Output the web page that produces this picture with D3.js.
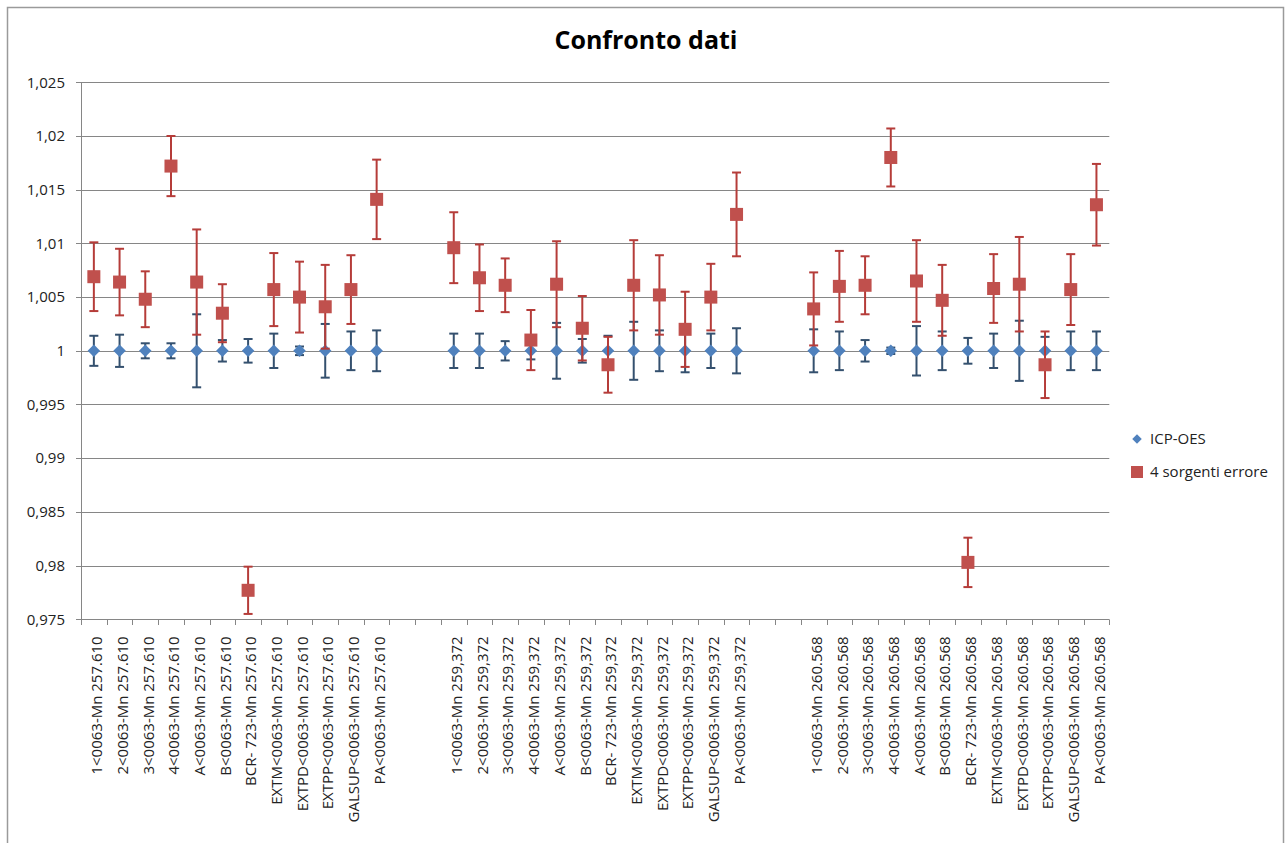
<!DOCTYPE html>
<html>
<head>
<meta charset="utf-8">
<script src="https://cdn.jsdelivr.net/npm/d3@7"></script>
<style>
  body { margin: 0; background: #fff; }
  svg { display: block; }
</style>
</head>
<body>
<div id="chart"></div>
<script>
// categories: 3 blocks of 12 samples, two empty slots between blocks
const samples = ["1<0063-Mn", "2<0063-Mn", "3<0063-Mn", "4<0063-Mn", "A<0063-Mn", "B<0063-Mn",
  "BCR- 723-Mn", "EXTM<0063-Mn", "EXTPD<0063-Mn", "EXTPP<0063-Mn", "GALSUP<0063-Mn", "PA<0063-Mn"];
const lines = ["257.610", "259,372", "260.568"];

// ICP-OES (all normalised to 1) and its error
const icpValues = [
  1, 1, 1, 1, 1, 1, 1, 1, 1, 1, 1, 1,
  1, 1, 1, 1, 1, 1, 1, 1, 1, 1, 1, 1,
  1, 1, 1, 1, 1, 1, 1, 1, 1, 1, 1, 1];
const icpErr = [
  0.0014, 0.0015, 0.0007, 0.0007, 0.0034, 0.0010, 0.0011, 0.0016, 0.0004, 0.0025, 0.0018, 0.0019,
  0.0016, 0.0016, 0.0009, 0.0008, 0.0026, 0.0011, 0.0014, 0.0027, 0.0019, 0.0020, 0.0016, 0.0021,
  0.0020, 0.0018, 0.0010, 0.0003, 0.0023, 0.0018, 0.0012, 0.0016, 0.0028, 0.0013, 0.0018, 0.0018];

// "4 sorgenti errore"
const srcValues = [
  1.0069, 1.0064, 1.0048, 1.0172, 1.0064, 1.0035, 0.9777, 1.0057, 1.0050, 1.0041, 1.0057, 1.0141,
  1.0096, 1.0068, 1.0061, 1.0010, 1.0062, 1.0021, 0.9987, 1.0061, 1.0052, 1.0020, 1.0050, 1.0127,
  1.0039, 1.0060, 1.0061, 1.0180, 1.0065, 1.0047, 0.9803, 1.0058, 1.0062, 0.9987, 1.0057, 1.0136];
const srcErr = [
  0.0032, 0.0031, 0.0026, 0.0028, 0.0049, 0.0027, 0.0022, 0.0034, 0.0033, 0.0039, 0.0032, 0.0037,
  0.0033, 0.0031, 0.0025, 0.0028, 0.0040, 0.0030, 0.0026, 0.0042, 0.0037, 0.0035, 0.0031, 0.0039,
  0.0034, 0.0033, 0.0027, 0.0027, 0.0038, 0.0033, 0.0023, 0.0032, 0.0044, 0.0031, 0.0033, 0.0038];

const gap = 2;
const yDomain = [0.975, 1.025];

// build the slot table (blank slots between blocks)
const points = [];
lines.forEach((ln, g) => {
  samples.forEach((s, i) => {
    const k = g * samples.length + i;
    points.push({
      slot: g * (samples.length + gap) + i,
      label: s + " " + ln,
      icp: icpValues[k], icpE: icpErr[k],
      src: srcValues[k], srcE: srcErr[k]
    });
  });
});
const nSlots = lines.length * samples.length + (lines.length - 1) * gap;

const W = 1288, H = 843;
const plot = { left: 81, right: 1109.3, top: 82.3, bottom: 619.3 };
const font = "'Open Sans', sans-serif";
const gridColor = "#868686";
const blue = "#4f81bd", blueErr = "#34506e";
const red = "#c0504d", redErr = "#b53c39";

const svg = d3.select("#chart").append("svg")
  .attr("width", W).attr("height", H);

svg.append("rect").attr("width", W).attr("height", H).attr("fill", "#fff");
// chart frame
svg.append("rect")
  .attr("x", 7.5).attr("y", 7.5).attr("width", 1276).attr("height", 860)
  .attr("fill", "none").attr("stroke", "#9a9a9a").attr("stroke-width", 1.5);

const x = d3.scaleBand().domain(d3.range(nSlots)).range([plot.left, plot.right]).padding(0);
const y = d3.scaleLinear().domain(yDomain).range([plot.bottom, plot.top]);

const it = d3.formatLocale({ decimal: ",", thousands: ".", grouping: [3], currency: ["", "€"] });
const fmt = it.format("~g");

// gridlines
const yTicks = y.ticks(10);
svg.append("g").selectAll("line")
  .data(yTicks)
  .join("line")
  .attr("x1", plot.left - 5).attr("x2", plot.right)
  .attr("y1", d => Math.round(y(d)) + 0.5).attr("y2", d => Math.round(y(d)) + 0.5)
  .attr("stroke", gridColor).attr("stroke-width", 1);

svg.append("g").selectAll("text")
  .data(yTicks)
  .join("text")
  .attr("x", plot.left - 16)
  .attr("y", d => y(d))
  .attr("dy", "0.35em")
  .attr("text-anchor", "end")
  .style("font", "15px " + font)
  .attr("fill", "#222")
  .text(d => fmt(d));

// axis line
svg.append("line")
  .attr("x1", plot.left + 0.5).attr("x2", plot.left + 0.5)
  .attr("y1", plot.top).attr("y2", plot.bottom)
  .attr("stroke", gridColor);

// category ticks on the slot boundaries
svg.append("g").selectAll("line")
  .data(d3.range(nSlots + 1))
  .join("line")
  .attr("x1", i => Math.round(plot.left + i * x.step()) + 0.5)
  .attr("x2", i => Math.round(plot.left + i * x.step()) + 0.5)
  .attr("y1", Math.round(plot.bottom) + 0.5).attr("y2", Math.round(plot.bottom) + 6)
  .attr("stroke", gridColor);

// category labels
svg.append("g").selectAll("text")
  .data(points)
  .join("text")
  .attr("transform", d => `translate(${x(d.slot) + x.bandwidth() / 2 + 3},${plot.bottom + 17}) rotate(-90)`)
  .attr("text-anchor", "end")
  .attr("dy", "0.35em")
  .style("font", "15px " + font)
  .attr("fill", "#222")
  .text(d => d.label);

const cap = 4.5;
function errorBars(g, val, err, color) {
  const sel = g.selectAll("g").data(points).join("g");
  const cx = d => x(d.slot) + x.bandwidth() / 2;
  sel.append("line")
    .attr("x1", cx).attr("x2", cx)
    .attr("y1", d => y(d[val] + d[err])).attr("y2", d => y(d[val] - d[err]))
    .attr("stroke", color).attr("stroke-width", 2);
  sel.append("line")
    .attr("x1", d => cx(d) - cap).attr("x2", d => cx(d) + cap)
    .attr("y1", d => y(d[val] + d[err])).attr("y2", d => y(d[val] + d[err]))
    .attr("stroke", color).attr("stroke-width", 2);
  sel.append("line")
    .attr("x1", d => cx(d) - cap).attr("x2", d => cx(d) + cap)
    .attr("y1", d => y(d[val] - d[err])).attr("y2", d => y(d[val] - d[err]))
    .attr("stroke", color).attr("stroke-width", 2);
}

errorBars(svg.append("g"), "icp", "icpE", blueErr);

svg.append("g").selectAll("path")
  .data(points)
  .join("path")
  .attr("transform", d => `translate(${x(d.slot) + x.bandwidth() / 2},${y(d.icp)}) rotate(45)`)
  .attr("d", d3.symbol().type(d3.symbolSquare).size(78))
  .attr("fill", blue);

errorBars(svg.append("g"), "src", "srcE", redErr);

svg.append("g").selectAll("rect")
  .data(points)
  .join("rect")
  .attr("x", d => x(d.slot) + x.bandwidth() / 2 - 6.5)
  .attr("y", d => y(d.src) - 6.5)
  .attr("width", 13).attr("height", 13)
  .attr("fill", red);

// title
svg.append("text")
  .attr("x", 646).attr("y", 49)
  .attr("text-anchor", "middle")
  .style("font", "bold 25px " + font)
  .attr("fill", "#000")
  .text("Confronto dati");

// legend
const legend = svg.append("g").attr("transform", "translate(1137,439)");
legend.append("path")
  .attr("transform", "rotate(45)")
  .attr("d", d3.symbol().type(d3.symbolSquare).size(45))
  .attr("fill", blue);
legend.append("text")
  .attr("x", 13).attr("y", 0).attr("dy", "0.35em")
  .style("font", "15px " + font).attr("fill", "#222")
  .text("ICP-OES");
legend.append("rect")
  .attr("x", -6).attr("y", 27).attr("width", 12).attr("height", 12)
  .attr("fill", red);
legend.append("text")
  .attr("x", 13).attr("y", 33).attr("dy", "0.35em")
  .style("font", "15px " + font).attr("fill", "#222")
  .text("4 sorgenti errore");
</script>
</body>
</html>
